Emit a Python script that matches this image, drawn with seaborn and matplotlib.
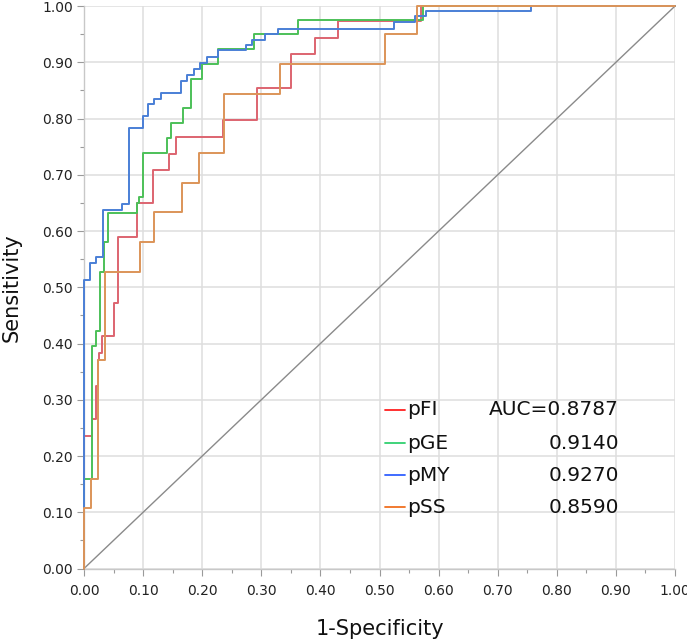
import numpy as np
import pandas as pd
import matplotlib
matplotlib.use("Agg")
import matplotlib.pyplot as plt
from matplotlib.ticker import MultipleLocator, FormatStrFormatter
import seaborn as sns

# -----------------------------
# ROC points (step corners, steps-post)
# -----------------------------
fpr_fi = [0, 0, 0.013, 0.021, 0.024, 0.025, 0.031, 0.051, 0.058, 0.090, 0.116,
          0.143, 0.156, 0.235, 0.292, 0.351, 0.391, 0.430, 0.570, 1.0]
tpr_fi = [0, 0.236, 0.265, 0.325, 0.371, 0.383, 0.414, 0.472, 0.590, 0.649, 0.708,
          0.737, 0.767, 0.797, 0.855, 0.915, 0.943, 0.973, 1.0, 1.0]

fpr_ge = [0, 0, 0.013, 0.020, 0.027, 0.034, 0.040, 0.090, 0.093, 0.100, 0.140,
          0.147, 0.167, 0.181, 0.200, 0.227, 0.287, 0.362, 0.573, 1.0]
tpr_ge = [0, 0.159, 0.396, 0.423, 0.528, 0.580, 0.632, 0.649, 0.660, 0.739, 0.765,
          0.792, 0.818, 0.871, 0.897, 0.924, 0.951, 0.976, 1.0, 1.0]

fpr_my = [0, 0, 0.010, 0.020, 0.032, 0.065, 0.076, 0.099, 0.109, 0.119, 0.130,
          0.164, 0.175, 0.186, 0.197, 0.208, 0.227, 0.274, 0.285, 0.306, 0.329,
          0.525, 0.560, 0.579, 0.756, 1.0]
tpr_my = [0, 0.513, 0.543, 0.554, 0.637, 0.648, 0.784, 0.804, 0.825, 0.835, 0.846,
          0.867, 0.878, 0.888, 0.899, 0.909, 0.921, 0.930, 0.940, 0.951, 0.960,
          0.971, 0.983, 0.992, 1.0, 1.0]

fpr_ss = [0, 0, 0.011, 0.023, 0.036, 0.095, 0.118, 0.165, 0.195, 0.237, 0.332,
          0.510, 0.564, 1.0]
tpr_ss = [0, 0.107, 0.159, 0.370, 0.528, 0.580, 0.633, 0.686, 0.739, 0.844, 0.897,
          0.951, 1.0, 1.0]

names = ["pFI", "pGE", "pMY", "pSS"]
auc_labels = ["AUC=0.8787", "0.9140", "0.9270", "0.8590"]
line_colors = ["#dd6470", "#4cc058", "#4a7fd6", "#dc9458"]
legend_colors = ["#ff2020", "#30d070", "#3060ff", "#f07020"]

curves = {
    "pFI": (fpr_fi, tpr_fi),
    "pGE": (fpr_ge, tpr_ge),
    "pMY": (fpr_my, tpr_my),
    "pSS": (fpr_ss, tpr_ss),
}

# -----------------------------
# Figure
# -----------------------------
sns.set_style("white")
plt.rcParams["font.family"] = ["DejaVu Sans"]

fig = plt.figure(figsize=(6.87, 6.4), dpi=100)
ax = fig.add_axes([0.1223, 0.1117, 0.8603, 0.8789])

# diagonal reference
diag = pd.DataFrame({"x": [0, 1], "y": [0, 1]})
sns.lineplot(data=diag, x="x", y="y", color="#8a8a8a", linewidth=1.0, ax=ax)

for name, col in zip(names, line_colors):
    fpr, tpr = curves[name]
    d = pd.DataFrame({"fpr": fpr, "tpr": tpr})
    sns.lineplot(data=d, x="fpr", y="tpr", estimator=None, sort=False,
                 drawstyle="steps-post", color=col, linewidth=1.4,
                 ax=ax, clip_on=False, zorder=3)

ax.set_xlim(0, 1)
ax.set_ylim(0, 1)
ax.xaxis.set_major_locator(MultipleLocator(0.1))
ax.yaxis.set_major_locator(MultipleLocator(0.1))
ax.xaxis.set_minor_locator(MultipleLocator(0.05))
ax.yaxis.set_minor_locator(MultipleLocator(0.05))
ax.xaxis.set_major_formatter(FormatStrFormatter("%.2f"))
ax.yaxis.set_major_formatter(FormatStrFormatter("%.2f"))

ax.grid(True, which="major", color="#dedede", linewidth=1.1)
ax.set_axisbelow(True)
ax.tick_params(which="major", direction="out", length=5, width=0.8,
               color="#9a9a9a", labelsize=10, labelcolor="#222222", pad=3,
               bottom=True, left=True)
ax.tick_params(axis="x", which="major", pad=6)
ax.tick_params(which="minor", direction="out", length=3, width=0.8,
               color="#9a9a9a", bottom=True, left=True)

for s in ["top", "right"]:
    ax.spines[s].set_visible(False)
for s in ["left", "bottom"]:
    ax.spines[s].set_color("#c8c8c8")
    ax.spines[s].set_linewidth(1.0)

ax.set_xlabel("1-Specificity", fontsize=15, color="#111111", labelpad=15.5)
ax.set_ylabel("Sensitivity", fontsize=15, color="#111111", labelpad=14.5)

# legend drawn as a little table
row_y = [0.282, 0.223, 0.166, 0.109]
for name, lab, lc, yy in zip(names, auc_labels, legend_colors, row_y):
    ax.plot([0.509, 0.543], [yy, yy], color=lc, linewidth=1.3,
            transform=ax.transAxes, zorder=4)
    ax.text(0.547, yy, name, transform=ax.transAxes, fontsize=14.5,
            va="center", ha="left", color="#111111")
    ax.text(0.905, yy, lab, transform=ax.transAxes, fontsize=14.5,
            va="center", ha="right", color="#111111")

fig.savefig("out.png", dpi=100)
